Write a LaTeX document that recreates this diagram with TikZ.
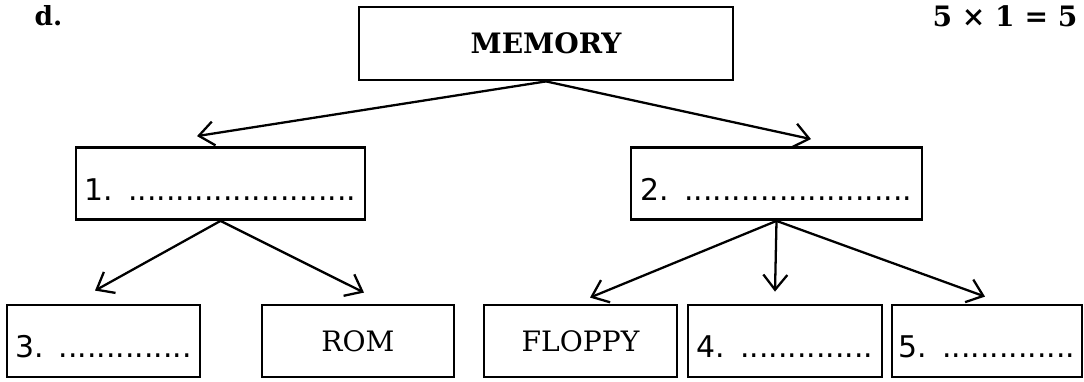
\documentclass[tikz,border=0pt]{standalone}
\usepackage{fontspec}
\setmainfont{DejaVu Serif}
\setsansfont{DejaVu Sans}
\usetikzlibrary{arrows.meta}

\tikzset{
  box/.style={draw, line width=1.6pt, inner sep=0pt, minimum height=1.44cm},
  slot/.style={box, font=\sffamily\fontsize{17}{20}\selectfont, text height=1.06cm, text depth=0.38cm},
  word/.style={box, font=\fontsize{16}{19}\selectfont},
  arr/.style={line width=1.3pt, line cap=round, -{Straight Barb[length=0.3cm,width=0.48cm,line width=1.3pt]}}
}

\begin{document}
\begin{tikzpicture}
\useasboundingbox (0,0) rectangle (21.68,7.62);

\node (marks) at (0.97,7.30) {\bfseries\fontsize{15}{18}\selectfont d.};
\node (score) at (20.10,7.30) {\bfseries\fontsize{16}{19}\selectfont 5 × 1 = 5};

\node[box, minimum width=7.48cm, minimum height=1.46cm, font=\bfseries\fontsize{16}{19}\selectfont] (mem) at (10.92,6.75) {MEMORY};

\node[slot, minimum width=5.78cm] (ans1) at (4.41,3.95) {1.\enspace........................};
\node[slot, minimum width=5.82cm] (ans2) at (15.53,3.95) {2.\enspace........................};

\node[slot, minimum width=3.86cm] (ans3) at (2.07,0.80) {3.\enspace..............};
\node[word, minimum width=3.84cm] (rom) at (7.16,0.80) {ROM};
\node[word, minimum width=3.86cm] (floppy) at (11.61,0.80) {FLOPPY};
\node[slot, minimum width=3.88cm] (ans4) at (15.70,0.80) {4.\enspace..............};
\node[slot, minimum width=3.80cm] (ans5) at (19.74,0.80) {5.\enspace..............};

\draw[arr] (mem.south) -- ([shift={(-0.47,0.20)}]ans1.north);
\draw[arr] (mem.south) -- ([shift={(0.69,0.14)}]ans2.north);

\draw[arr] (ans1.south) -- ([shift={(-0.17,0.26)}]ans3.north);
\draw[arr] (ans1.south) -- ([shift={(0.12,0.22)}]rom.north);

\draw[arr] (ans2.south) -- ([shift={(0.19,0.12)}]floppy.north);
\draw[arr] (ans2.south) -- ([shift={(-0.20,0.24)}]ans4.north);
\draw[arr] (ans2.south) -- ([shift={(-0.04,0.14)}]ans5.north);
\end{tikzpicture}
\end{document}
